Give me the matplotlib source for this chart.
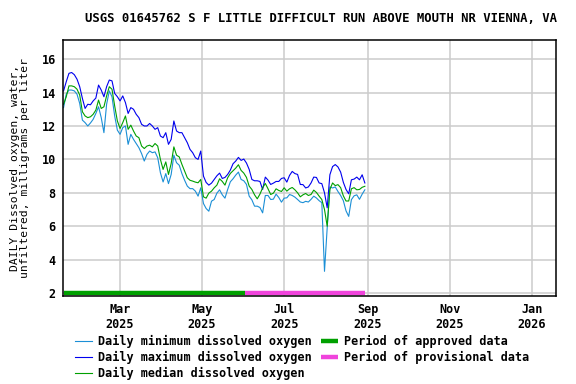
import numpy as np
import matplotlib
matplotlib.use("Agg")
import matplotlib.pyplot as plt
import matplotlib.dates as mdates

# daily values read every 2nd day, starting 2025-01-18
start_day = np.datetime64("2025-01-18")
step_days = 2

do_max = [14.1, 14.65, 15.15, 15.2, 15.07, 14.8, 14.35, 13.65, 13.05, 13.3,
          13.27, 13.5, 13.67, 14.45, 14.15, 13.75, 14.35, 14.75, 14.7, 13.95,
          13.75, 13.5, 13.8, 13.4, 12.75, 13.1, 13.0, 12.7, 12.5, 12.1,
          12.0, 12.0, 12.15, 12.0, 11.8, 11.9, 11.4, 11.3, 11.6, 10.9,
          11.2, 12.3, 11.7, 11.6, 11.6, 11.3, 11.0, 10.6, 10.4, 10.1,
          10.0, 10.5, 9.0, 8.62, 8.46, 8.58, 8.8, 9.02, 9.18, 8.86,
          8.92, 9.1, 9.36, 9.74, 9.9, 10.12, 9.94, 10.02, 9.78, 9.4,
          8.8, 8.72, 8.72, 8.68, 8.2, 8.94, 8.76, 8.5, 8.58, 8.68,
          8.68, 8.86, 8.9, 8.64, 9.04, 9.28, 9.15, 9.1, 8.5, 8.49,
          8.29, 8.35, 8.59, 8.94, 8.92, 8.59, 8.55, 8.0, 7.1, 9.08,
          9.57, 9.69, 9.55, 9.24, 8.63, 8.2, 7.94, 8.78, 8.82, 8.94,
          8.78, 9.08, 8.59]

do_med = [13.3, 13.75, 14.4, 14.4, 14.35, 14.2, 13.85, 12.85, 12.6, 12.5,
          12.55, 12.7, 12.95, 13.55, 13.05, 13.15, 13.8, 14.35, 14.2, 13.2,
          12.3, 11.85, 12.2, 12.6, 11.8, 12.05, 11.7, 11.4, 11.3, 10.8,
          10.65, 10.8, 10.85, 10.75, 10.95, 10.8, 10.0, 9.4, 9.85, 9.1,
          9.75, 10.75, 10.25, 10.15, 9.7, 9.3, 8.9, 8.75, 8.7, 8.64,
          8.6, 8.8, 7.76, 7.68, 7.98, 8.1, 8.3, 8.46, 8.84, 8.68,
          8.46, 8.9, 9.16, 9.32, 9.48, 9.68, 9.34, 9.18, 8.92, 8.4,
          8.2, 7.88, 7.64, 7.92, 8.3, 8.56, 8.24, 7.9, 7.98, 8.24,
          8.14, 8.08, 8.3, 8.1, 8.24, 8.32, 8.18, 8.0, 7.76, 7.88,
          7.96, 7.84, 7.9, 8.16, 8.02, 7.8, 7.6, 7.0, 6.0, 8.2,
          8.59, 8.43, 8.49, 8.31, 7.82, 7.51, 7.51, 8.24, 8.31, 8.18,
          8.2, 8.33, 8.39]

do_min = [13.1, 13.9, 14.15, 14.15, 14.1, 13.9, 13.35, 12.35, 12.2, 12.0,
          12.18, 12.4, 12.75, 13.15, 12.5, 11.6, 13.3, 14.1, 13.75, 12.6,
          11.75, 11.5, 11.9, 12.0, 10.9, 11.5, 11.2, 10.95, 10.7, 10.35,
          9.9, 10.3, 10.5, 10.4, 10.45, 10.1, 9.2, 8.65, 9.15, 8.55,
          9.1, 10.25, 9.8, 9.65, 9.15, 8.75, 8.4, 8.25, 8.25, 8.1,
          7.8, 8.3, 7.36, 7.06, 6.9, 7.5, 7.6, 7.98, 8.18, 7.88,
          7.68, 8.2, 8.66, 8.84, 9.06, 9.24, 8.8, 8.72, 8.5, 7.8,
          7.58, 7.2, 7.2, 7.12, 6.8, 7.84, 7.84, 7.6, 7.62, 7.92,
          7.72, 7.44, 7.68, 7.7, 7.9, 7.84, 7.74, 7.6, 7.45, 7.41,
          7.49, 7.45, 7.61, 7.8, 7.69, 7.53, 7.41, 3.3, 5.9, 8.35,
          8.29, 8.35, 8.08, 7.84, 7.53, 6.92, 6.59, 7.59, 7.82, 7.88,
          7.61, 7.92, 8.18]

# data-quality periods
approved = ["2025-01-18", "2025-06-02"]
provisional = ["2025-06-02", "2025-08-30"]

title = "USGS 01645762 S F LITTLE DIFFICULT RUN ABOVE MOUTH NR VIENNA, VA"
ylabel = "DAILY Dissolved oxygen, water,\nunfiltered, milligrams per liter"

dates = start_day + np.arange(len(do_max)) * np.timedelta64(step_days, "D")
dates = dates.astype("datetime64[D]").astype(object)

plt.rcParams["font.family"] = "DejaVu Sans Mono"
plt.rcParams["font.weight"] = "bold"
plt.rcParams["font.size"] = 8.5

fig = plt.figure(figsize=(5.76, 3.84), dpi=100)
ax = fig.add_axes([0.109, 0.229, 0.856, 0.667])

c_min = "#1b8fd6"
c_max = "#0000ee"
c_med = "#00a000"

ax.plot(dates, do_min, color=c_min, lw=0.8, label="Daily minimum dissolved oxygen")
ax.plot(dates, do_max, color=c_max, lw=0.8, label="Daily maximum dissolved oxygen")
ax.plot(dates, do_med, color=c_med, lw=0.8, label="Daily median dissolved oxygen")

ax.plot(np.array(approved, dtype="datetime64[D]").astype(object), [2, 2],
        color="#00a000", lw=3.2, solid_capstyle="butt", label="Period of approved data")
ax.plot(np.array(provisional, dtype="datetime64[D]").astype(object), [2, 2],
        color="#f044dc", lw=3.2, solid_capstyle="butt", label="Period of provisional data")

ax.set_xlim(np.datetime64("2025-01-17T10:00").astype(object),
            np.datetime64("2026-01-19T00:00").astype(object))
ax.set_ylim(1.82, 17.15)
ax.set_yticks(range(2, 17, 2))
ax.xaxis.set_major_locator(mdates.MonthLocator(bymonth=[1, 3, 5, 7, 9, 11]))
ax.xaxis.set_major_formatter(mdates.DateFormatter("%b\n%Y"))

ax.grid(True, color="#cccccc", lw=1.1)
ax.set_axisbelow(True)
ax.tick_params(length=0, pad=5)
for s in ax.spines.values():
    s.set_linewidth(1.1)

ax.set_ylabel(ylabel, fontsize=8.2, labelpad=8, linespacing=1.1)
fig.text(0.557, 0.951, title, ha="center", va="center", fontsize=8.8)

fig.legend(loc="upper left", bbox_to_anchor=(0.13, 0.127), ncol=2, frameon=False,
           borderpad=0, borderaxespad=0, handlelength=1.45, handletextpad=0.5,
           columnspacing=0.75, labelspacing=0.22, fontsize=8.5)

fig.savefig("out.png", dpi=100)
